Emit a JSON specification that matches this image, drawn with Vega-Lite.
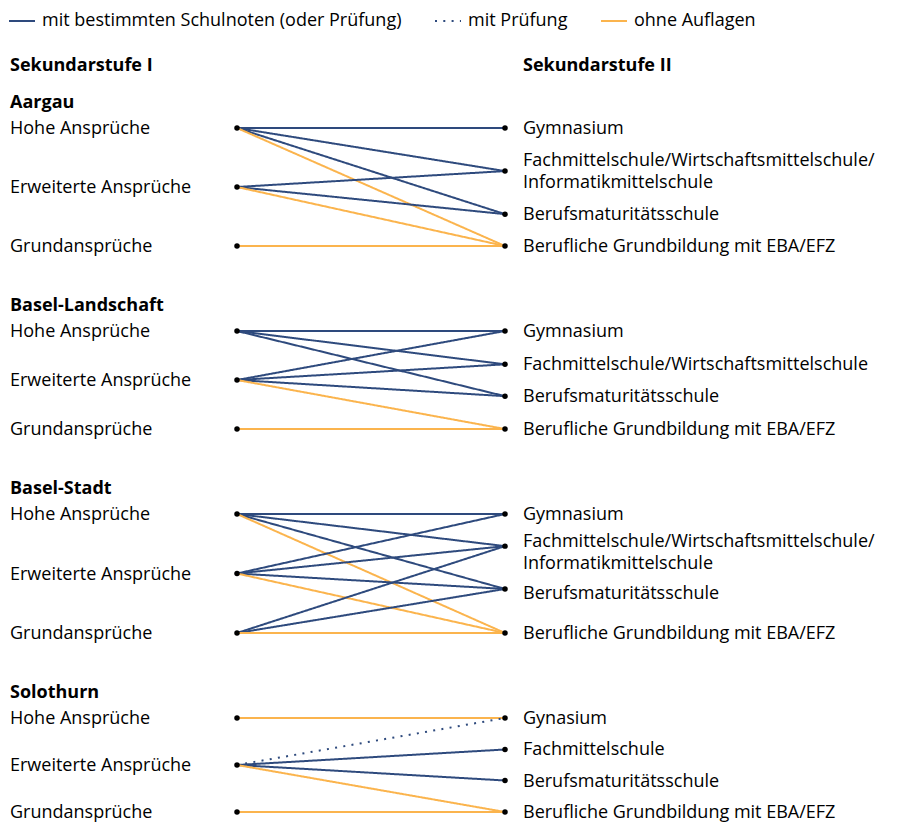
{
  "$schema": "https://vega.github.io/schema/vega-lite/v6.json",
  "autosize": {"type": "pad"},
  "padding": {"left": 8, "top": 7, "right": 0, "bottom": 0},
  "bounds": "flush",
  "spacing": 85,
  "datasets": {
    "aargau_knoten": [
      {"stufe": "Sekundarstufe I", "name": "Hohe Ansprüche", "rang": 0, "textrang": 0},
      {"stufe": "Sekundarstufe I", "name": "Erweiterte Ansprüche", "rang": 1, "textrang": 1},
      {"stufe": "Sekundarstufe I", "name": "Grundansprüche", "rang": 2, "textrang": 2},
      {"stufe": "Sekundarstufe II", "name": "Gymnasium", "rang": 0, "textrang": 0},
      {"stufe": "Sekundarstufe II", "name": "Fachmittelschule/Wirtschaftsmittelschule/\nInformatikmittelschule", "rang": 0.73, "textrang": 0.54},
      {"stufe": "Sekundarstufe II", "name": "Berufsmaturitätsschule", "rang": 1.46, "textrang": 1.46},
      {"stufe": "Sekundarstufe II", "name": "Berufliche Grundbildung mit EBA/EFZ", "rang": 2, "textrang": 2}
    ],
    "aargau_kanten": [
      {"von": "Hohe Ansprüche", "nach": "Gymnasium", "art": "mit bestimmten Schulnoten (oder Prüfung)"},
      {"von": "Hohe Ansprüche", "nach": "Fachmittelschule/Wirtschaftsmittelschule/\nInformatikmittelschule", "art": "mit bestimmten Schulnoten (oder Prüfung)"},
      {"von": "Hohe Ansprüche", "nach": "Berufsmaturitätsschule", "art": "mit bestimmten Schulnoten (oder Prüfung)"},
      {"von": "Hohe Ansprüche", "nach": "Berufliche Grundbildung mit EBA/EFZ", "art": "ohne Auflagen"},
      {"von": "Erweiterte Ansprüche", "nach": "Fachmittelschule/Wirtschaftsmittelschule/\nInformatikmittelschule", "art": "mit bestimmten Schulnoten (oder Prüfung)"},
      {"von": "Erweiterte Ansprüche", "nach": "Berufsmaturitätsschule", "art": "mit bestimmten Schulnoten (oder Prüfung)"},
      {"von": "Erweiterte Ansprüche", "nach": "Berufliche Grundbildung mit EBA/EFZ", "art": "ohne Auflagen"},
      {"von": "Grundansprüche", "nach": "Berufliche Grundbildung mit EBA/EFZ", "art": "ohne Auflagen"}
    ],
    "bl_knoten": [
      {"stufe": "Sekundarstufe I", "name": "Hohe Ansprüche", "rang": 0},
      {"stufe": "Sekundarstufe I", "name": "Erweiterte Ansprüche", "rang": 1},
      {"stufe": "Sekundarstufe I", "name": "Grundansprüche", "rang": 2},
      {"stufe": "Sekundarstufe II", "name": "Gymnasium", "rang": 0},
      {"stufe": "Sekundarstufe II", "name": "Fachmittelschule/Wirtschaftsmittelschule", "rang": 0.68},
      {"stufe": "Sekundarstufe II", "name": "Berufsmaturitätsschule", "rang": 1.33},
      {"stufe": "Sekundarstufe II", "name": "Berufliche Grundbildung mit EBA/EFZ", "rang": 2}
    ],
    "bl_kanten": [
      {"von": "Hohe Ansprüche", "nach": "Gymnasium", "art": "mit bestimmten Schulnoten (oder Prüfung)"},
      {"von": "Hohe Ansprüche", "nach": "Fachmittelschule/Wirtschaftsmittelschule", "art": "mit bestimmten Schulnoten (oder Prüfung)"},
      {"von": "Hohe Ansprüche", "nach": "Berufsmaturitätsschule", "art": "mit bestimmten Schulnoten (oder Prüfung)"},
      {"von": "Erweiterte Ansprüche", "nach": "Gymnasium", "art": "mit bestimmten Schulnoten (oder Prüfung)"},
      {"von": "Erweiterte Ansprüche", "nach": "Fachmittelschule/Wirtschaftsmittelschule", "art": "mit bestimmten Schulnoten (oder Prüfung)"},
      {"von": "Erweiterte Ansprüche", "nach": "Berufsmaturitätsschule", "art": "mit bestimmten Schulnoten (oder Prüfung)"},
      {"von": "Erweiterte Ansprüche", "nach": "Berufliche Grundbildung mit EBA/EFZ", "art": "ohne Auflagen"},
      {"von": "Grundansprüche", "nach": "Berufliche Grundbildung mit EBA/EFZ", "art": "ohne Auflagen"}
    ],
    "bs_knoten": [
      {"stufe": "Sekundarstufe I", "name": "Hohe Ansprüche", "rang": 0, "textrang": 0},
      {"stufe": "Sekundarstufe I", "name": "Erweiterte Ansprüche", "rang": 1, "textrang": 1},
      {"stufe": "Sekundarstufe I", "name": "Grundansprüche", "rang": 2, "textrang": 2},
      {"stufe": "Sekundarstufe II", "name": "Gymnasium", "rang": 0, "textrang": 0},
      {"stufe": "Sekundarstufe II", "name": "Fachmittelschule/Wirtschaftsmittelschule/\nInformatikmittelschule", "rang": 0.54, "textrang": 0.45},
      {"stufe": "Sekundarstufe II", "name": "Berufsmaturitätsschule", "rang": 1.26, "textrang": 1.33},
      {"stufe": "Sekundarstufe II", "name": "Berufliche Grundbildung mit EBA/EFZ", "rang": 2, "textrang": 2}
    ],
    "bs_kanten": [
      {"von": "Hohe Ansprüche", "nach": "Gymnasium", "art": "mit bestimmten Schulnoten (oder Prüfung)"},
      {"von": "Hohe Ansprüche", "nach": "Fachmittelschule/Wirtschaftsmittelschule/\nInformatikmittelschule", "art": "mit bestimmten Schulnoten (oder Prüfung)"},
      {"von": "Hohe Ansprüche", "nach": "Berufsmaturitätsschule", "art": "mit bestimmten Schulnoten (oder Prüfung)"},
      {"von": "Hohe Ansprüche", "nach": "Berufliche Grundbildung mit EBA/EFZ", "art": "ohne Auflagen"},
      {"von": "Erweiterte Ansprüche", "nach": "Gymnasium", "art": "mit bestimmten Schulnoten (oder Prüfung)"},
      {"von": "Erweiterte Ansprüche", "nach": "Fachmittelschule/Wirtschaftsmittelschule/\nInformatikmittelschule", "art": "mit bestimmten Schulnoten (oder Prüfung)"},
      {"von": "Erweiterte Ansprüche", "nach": "Berufsmaturitätsschule", "art": "mit bestimmten Schulnoten (oder Prüfung)"},
      {"von": "Erweiterte Ansprüche", "nach": "Berufliche Grundbildung mit EBA/EFZ", "art": "ohne Auflagen"},
      {"von": "Grundansprüche", "nach": "Fachmittelschule/Wirtschaftsmittelschule/\nInformatikmittelschule", "art": "mit bestimmten Schulnoten (oder Prüfung)"},
      {"von": "Grundansprüche", "nach": "Berufsmaturitätsschule", "art": "mit bestimmten Schulnoten (oder Prüfung)"},
      {"von": "Grundansprüche", "nach": "Berufliche Grundbildung mit EBA/EFZ", "art": "ohne Auflagen"}
    ],
    "so_knoten": [
      {"stufe": "Sekundarstufe I", "name": "Hohe Ansprüche", "rang": 0},
      {"stufe": "Sekundarstufe I", "name": "Erweiterte Ansprüche", "rang": 1},
      {"stufe": "Sekundarstufe I", "name": "Grundansprüche", "rang": 2},
      {"stufe": "Sekundarstufe II", "name": "Gynasium", "rang": 0},
      {"stufe": "Sekundarstufe II", "name": "Fachmittelschule", "rang": 0.67},
      {"stufe": "Sekundarstufe II", "name": "Berufsmaturitätsschule", "rang": 1.33},
      {"stufe": "Sekundarstufe II", "name": "Berufliche Grundbildung mit EBA/EFZ", "rang": 2}
    ],
    "so_kanten": [
      {"von": "Hohe Ansprüche", "nach": "Gynasium", "art": "ohne Auflagen"},
      {"von": "Erweiterte Ansprüche", "nach": "Gynasium", "art": "mit Prüfung"},
      {"von": "Erweiterte Ansprüche", "nach": "Fachmittelschule", "art": "mit bestimmten Schulnoten (oder Prüfung)"},
      {"von": "Erweiterte Ansprüche", "nach": "Berufsmaturitätsschule", "art": "mit bestimmten Schulnoten (oder Prüfung)"},
      {"von": "Erweiterte Ansprüche", "nach": "Berufliche Grundbildung mit EBA/EFZ", "art": "ohne Auflagen"},
      {"von": "Grundansprüche", "nach": "Berufliche Grundbildung mit EBA/EFZ", "art": "ohne Auflagen"}
    ]
  },
  "vconcat": [
    {
      "width": 880, "height": 1,
      "data": {"values": [{"stufe": "Sekundarstufe I"}, {"stufe": "Sekundarstufe II"}]},
      "encoding": {
        "x": {"field": "stufe", "type": "nominal", "scale": {"type": "point", "domain": ["Sekundarstufe I", "Sekundarstufe II"], "range": [227, 495], "padding": 0}, "axis": null},
        "text": {"field": "stufe"}
      },
      "layer": [
        {"transform": [{"filter": "datum.stufe == 'Sekundarstufe I'"}], "mark": {"type": "text", "align": "left", "dx": -227, "dy": 23, "fontWeight": "bold"}},
        {"transform": [{"filter": "datum.stufe == 'Sekundarstufe II'"}], "mark": {"type": "text", "align": "left", "dx": 18, "dy": 23, "fontWeight": "bold"}}
      ]
    },
    {
      "width": 880, "height": 118,
      "title": "Aargau",
      "layer": [
        {
          "data": {"name": "aargau_kanten"},
          "transform": [
            {"lookup": "von", "from": {"data": {"name": "aargau_knoten"}, "key": "name", "fields": ["rang"]}, "as": ["rang_von"]},
            {"lookup": "nach", "from": {"data": {"name": "aargau_knoten"}, "key": "name", "fields": ["rang"]}, "as": ["rang_nach"]}
          ],
          "mark": {"type": "rule", "strokeWidth": 2},
          "encoding": {
            "x": {"datum": "Sekundarstufe I", "type": "nominal", "scale": {"type": "point", "domain": ["Sekundarstufe I", "Sekundarstufe II"], "range": [227, 495], "padding": 0}, "axis": null},
            "x2": {"datum": "Sekundarstufe II"},
            "y": {"field": "rang_von", "type": "quantitative", "scale": {"domain": [0, 2], "reverse": true, "nice": false, "zero": false}, "axis": null},
            "y2": {"field": "rang_nach"},
            "color": {"field": "art", "type": "nominal", "scale": {"domain": ["mit bestimmten Schulnoten (oder Prüfung)", "mit Prüfung", "ohne Auflagen"], "range": ["#2e4a7d", "#2e4a7d", "#fbb44d"]}, "legend": {"title": null, "orient": "none", "legendX": -2, "legendY": -35, "direction": "horizontal", "symbolType": "stroke", "symbolSize": 676, "symbolStrokeWidth": 2, "labelFontSize": 18, "labelFont": "Open Sans", "labelColor": "black", "columnPadding": 29, "labelOffset": 6, "padding": 0, "labelLimit": 0}},
            "strokeDash": {"field": "art", "type": "nominal", "scale": {"domain": ["mit bestimmten Schulnoten (oder Prüfung)", "mit Prüfung", "ohne Auflagen"], "range": [[1, 0], [2, 6.3], [1, 0]]}, "legend": {"title": null, "orient": "none", "legendX": -2, "legendY": -35, "direction": "horizontal", "symbolType": "stroke", "symbolSize": 676, "symbolStrokeWidth": 2, "labelFontSize": 18, "labelFont": "Open Sans", "labelColor": "black", "columnPadding": 29, "labelOffset": 6, "padding": 0, "labelLimit": 0}}
          }
        },
        {
          "data": {"name": "aargau_knoten"},
          "mark": {"type": "circle", "size": 30, "color": "black", "opacity": 1},
          "encoding": {
            "x": {"field": "stufe", "type": "nominal", "scale": {"type": "point", "domain": ["Sekundarstufe I", "Sekundarstufe II"], "range": [227, 495], "padding": 0}, "axis": null},
            "y": {"field": "rang", "type": "quantitative", "scale": {"domain": [0, 2], "reverse": true, "nice": false, "zero": false}, "axis": null}
          }
        },
        {
          "data": {"name": "aargau_knoten"},
          "transform": [{"filter": "datum.stufe == 'Sekundarstufe I'"}],
          "mark": {"type": "text", "align": "left", "dx": -227, "dy": 1},
          "encoding": {
            "x": {"field": "stufe", "type": "nominal", "scale": {"type": "point", "domain": ["Sekundarstufe I", "Sekundarstufe II"], "range": [227, 495], "padding": 0}, "axis": null},
            "y": {"field": "textrang", "type": "quantitative", "scale": {"domain": [0, 2], "reverse": true, "nice": false, "zero": false}, "axis": null},
            "text": {"field": "name"}
          }
        },
        {
          "data": {"name": "aargau_knoten"},
          "transform": [{"filter": "datum.stufe == 'Sekundarstufe II'"}],
          "mark": {"type": "text", "align": "left", "dx": 18, "dy": 1, "lineBreak": "\n", "lineHeight": 22},
          "encoding": {
            "x": {"field": "stufe", "type": "nominal", "scale": {"type": "point", "domain": ["Sekundarstufe I", "Sekundarstufe II"], "range": [227, 495], "padding": 0}, "axis": null},
            "y": {"field": "textrang", "type": "quantitative", "scale": {"domain": [0, 2], "reverse": true, "nice": false, "zero": false}, "axis": null},
            "text": {"field": "name"}
          }
        }
      ]
    },
    {
      "width": 880, "height": 98,
      "title": "Basel-Landschaft",
      "layer": [
        {
          "data": {"name": "bl_kanten"},
          "transform": [
            {"lookup": "von", "from": {"data": {"name": "bl_knoten"}, "key": "name", "fields": ["rang"]}, "as": ["rang_von"]},
            {"lookup": "nach", "from": {"data": {"name": "bl_knoten"}, "key": "name", "fields": ["rang"]}, "as": ["rang_nach"]}
          ],
          "mark": {"type": "rule", "strokeWidth": 2},
          "encoding": {
            "x": {"datum": "Sekundarstufe I", "type": "nominal", "scale": {"type": "point", "domain": ["Sekundarstufe I", "Sekundarstufe II"], "range": [227, 495], "padding": 0}, "axis": null},
            "x2": {"datum": "Sekundarstufe II"},
            "y": {"field": "rang_von", "type": "quantitative", "scale": {"domain": [0, 2], "reverse": true, "nice": false, "zero": false}, "axis": null},
            "y2": {"field": "rang_nach"},
            "color": {"field": "art", "type": "nominal"},
            "strokeDash": {"field": "art", "type": "nominal"}
          }
        },
        {
          "data": {"name": "bl_knoten"},
          "mark": {"type": "circle", "size": 30, "color": "black", "opacity": 1},
          "encoding": {
            "x": {"field": "stufe", "type": "nominal", "scale": {"type": "point", "domain": ["Sekundarstufe I", "Sekundarstufe II"], "range": [227, 495], "padding": 0}, "axis": null},
            "y": {"field": "rang", "type": "quantitative", "scale": {"domain": [0, 2], "reverse": true, "nice": false, "zero": false}, "axis": null}
          }
        },
        {
          "data": {"name": "bl_knoten"},
          "transform": [{"filter": "datum.stufe == 'Sekundarstufe I'"}],
          "mark": {"type": "text", "align": "left", "dx": -227, "dy": 1},
          "encoding": {
            "x": {"field": "stufe", "type": "nominal", "scale": {"type": "point", "domain": ["Sekundarstufe I", "Sekundarstufe II"], "range": [227, 495], "padding": 0}, "axis": null},
            "y": {"field": "rang", "type": "quantitative", "scale": {"domain": [0, 2], "reverse": true, "nice": false, "zero": false}, "axis": null},
            "text": {"field": "name"}
          }
        },
        {
          "data": {"name": "bl_knoten"},
          "transform": [{"filter": "datum.stufe == 'Sekundarstufe II'"}],
          "mark": {"type": "text", "align": "left", "dx": 18, "dy": 1, "lineBreak": "\n", "lineHeight": 22},
          "encoding": {
            "x": {"field": "stufe", "type": "nominal", "scale": {"type": "point", "domain": ["Sekundarstufe I", "Sekundarstufe II"], "range": [227, 495], "padding": 0}, "axis": null},
            "y": {"field": "rang", "type": "quantitative", "scale": {"domain": [0, 2], "reverse": true, "nice": false, "zero": false}, "axis": null},
            "text": {"field": "name"}
          }
        }
      ]
    },
    {
      "width": 880, "height": 119,
      "title": "Basel-Stadt",
      "layer": [
        {
          "data": {"name": "bs_kanten"},
          "transform": [
            {"lookup": "von", "from": {"data": {"name": "bs_knoten"}, "key": "name", "fields": ["rang"]}, "as": ["rang_von"]},
            {"lookup": "nach", "from": {"data": {"name": "bs_knoten"}, "key": "name", "fields": ["rang"]}, "as": ["rang_nach"]}
          ],
          "mark": {"type": "rule", "strokeWidth": 2},
          "encoding": {
            "x": {"datum": "Sekundarstufe I", "type": "nominal", "scale": {"type": "point", "domain": ["Sekundarstufe I", "Sekundarstufe II"], "range": [227, 495], "padding": 0}, "axis": null},
            "x2": {"datum": "Sekundarstufe II"},
            "y": {"field": "rang_von", "type": "quantitative", "scale": {"domain": [0, 2], "reverse": true, "nice": false, "zero": false}, "axis": null},
            "y2": {"field": "rang_nach"},
            "color": {"field": "art", "type": "nominal"},
            "strokeDash": {"field": "art", "type": "nominal"}
          }
        },
        {
          "data": {"name": "bs_knoten"},
          "mark": {"type": "circle", "size": 30, "color": "black", "opacity": 1},
          "encoding": {
            "x": {"field": "stufe", "type": "nominal", "scale": {"type": "point", "domain": ["Sekundarstufe I", "Sekundarstufe II"], "range": [227, 495], "padding": 0}, "axis": null},
            "y": {"field": "rang", "type": "quantitative", "scale": {"domain": [0, 2], "reverse": true, "nice": false, "zero": false}, "axis": null}
          }
        },
        {
          "data": {"name": "bs_knoten"},
          "transform": [{"filter": "datum.stufe == 'Sekundarstufe I'"}],
          "mark": {"type": "text", "align": "left", "dx": -227, "dy": 1},
          "encoding": {
            "x": {"field": "stufe", "type": "nominal", "scale": {"type": "point", "domain": ["Sekundarstufe I", "Sekundarstufe II"], "range": [227, 495], "padding": 0}, "axis": null},
            "y": {"field": "textrang", "type": "quantitative", "scale": {"domain": [0, 2], "reverse": true, "nice": false, "zero": false}, "axis": null},
            "text": {"field": "name"}
          }
        },
        {
          "data": {"name": "bs_knoten"},
          "transform": [{"filter": "datum.stufe == 'Sekundarstufe II'"}],
          "mark": {"type": "text", "align": "left", "dx": 18, "dy": 1, "lineBreak": "\n", "lineHeight": 22},
          "encoding": {
            "x": {"field": "stufe", "type": "nominal", "scale": {"type": "point", "domain": ["Sekundarstufe I", "Sekundarstufe II"], "range": [227, 495], "padding": 0}, "axis": null},
            "y": {"field": "textrang", "type": "quantitative", "scale": {"domain": [0, 2], "reverse": true, "nice": false, "zero": false}, "axis": null},
            "text": {"field": "name"}
          }
        }
      ]
    },
    {
      "width": 880, "height": 94,
      "title": "Solothurn",
      "layer": [
        {
          "data": {"name": "so_kanten"},
          "transform": [
            {"lookup": "von", "from": {"data": {"name": "so_knoten"}, "key": "name", "fields": ["rang"]}, "as": ["rang_von"]},
            {"lookup": "nach", "from": {"data": {"name": "so_knoten"}, "key": "name", "fields": ["rang"]}, "as": ["rang_nach"]}
          ],
          "mark": {"type": "rule", "strokeWidth": 2},
          "encoding": {
            "x": {"datum": "Sekundarstufe I", "type": "nominal", "scale": {"type": "point", "domain": ["Sekundarstufe I", "Sekundarstufe II"], "range": [227, 495], "padding": 0}, "axis": null},
            "x2": {"datum": "Sekundarstufe II"},
            "y": {"field": "rang_von", "type": "quantitative", "scale": {"domain": [0, 2], "reverse": true, "nice": false, "zero": false}, "axis": null},
            "y2": {"field": "rang_nach"},
            "color": {"field": "art", "type": "nominal"},
            "strokeDash": {"field": "art", "type": "nominal"}
          }
        },
        {
          "data": {"name": "so_knoten"},
          "mark": {"type": "circle", "size": 30, "color": "black", "opacity": 1},
          "encoding": {
            "x": {"field": "stufe", "type": "nominal", "scale": {"type": "point", "domain": ["Sekundarstufe I", "Sekundarstufe II"], "range": [227, 495], "padding": 0}, "axis": null},
            "y": {"field": "rang", "type": "quantitative", "scale": {"domain": [0, 2], "reverse": true, "nice": false, "zero": false}, "axis": null}
          }
        },
        {
          "data": {"name": "so_knoten"},
          "transform": [{"filter": "datum.stufe == 'Sekundarstufe I'"}],
          "mark": {"type": "text", "align": "left", "dx": -227, "dy": 1},
          "encoding": {
            "x": {"field": "stufe", "type": "nominal", "scale": {"type": "point", "domain": ["Sekundarstufe I", "Sekundarstufe II"], "range": [227, 495], "padding": 0}, "axis": null},
            "y": {"field": "rang", "type": "quantitative", "scale": {"domain": [0, 2], "reverse": true, "nice": false, "zero": false}, "axis": null},
            "text": {"field": "name"}
          }
        },
        {
          "data": {"name": "so_knoten"},
          "transform": [{"filter": "datum.stufe == 'Sekundarstufe II'"}],
          "mark": {"type": "text", "align": "left", "dx": 18, "dy": 1, "lineBreak": "\n", "lineHeight": 22},
          "encoding": {
            "x": {"field": "stufe", "type": "nominal", "scale": {"type": "point", "domain": ["Sekundarstufe I", "Sekundarstufe II"], "range": [227, 495], "padding": 0}, "axis": null},
            "y": {"field": "rang", "type": "quantitative", "scale": {"domain": [0, 2], "reverse": true, "nice": false, "zero": false}, "axis": null},
            "text": {"field": "name"}
          }
        }
      ]
    }
  ],
  "config": {
    "view": {"stroke": null},
    "font": "Open Sans",
    "text": {"font": "Open Sans", "fontSize": 18, "color": "black", "baseline": "middle"},
    "title": {"anchor": "start", "frame": "group", "font": "Open Sans", "fontSize": 18, "fontWeight": "bold", "color": "black", "offset": 8}
  }
}
